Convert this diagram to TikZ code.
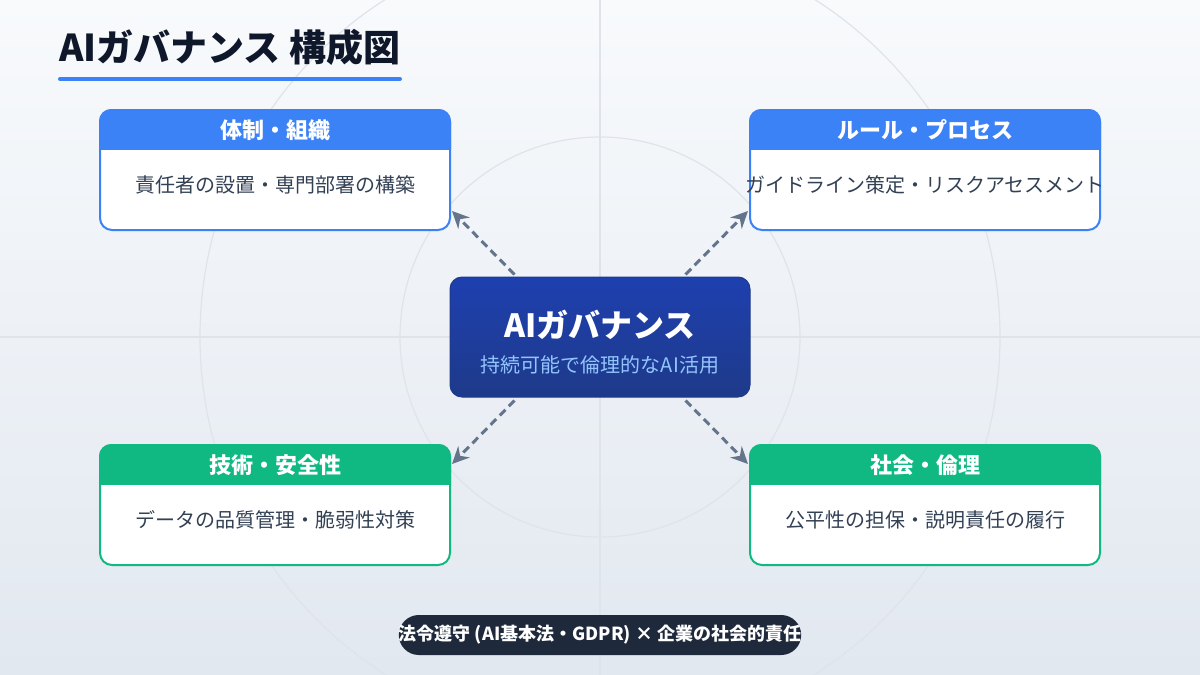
\documentclass[tikz,border=0pt]{standalone}
\usepackage{fontspec}
\setmainfont{Noto Sans CJK JP}
\usepackage{tikz}
\usetikzlibrary{positioning,arrows.meta}

\definecolor{bgtop}{HTML}{F8FAFC}
\definecolor{bgbot}{HTML}{E2E8F0}
\definecolor{gridgray}{HTML}{DFE4EB}
\definecolor{ruleblue}{HTML}{3B82F6}
\definecolor{techgreen}{HTML}{10B981}
\definecolor{coreblue}{HTML}{1E40AF}
\definecolor{coredark}{HTML}{1E3A8A}
\definecolor{subblue}{HTML}{93C5FD}
\definecolor{titleink}{HTML}{0F172A}
\definecolor{bodyink}{HTML}{334155}
\definecolor{arrowgray}{HTML}{64748B}
\definecolor{pillnavy}{HTML}{1E293B}

\tikzset{
  card/.style={draw=#1, line width=2pt, fill=white, rounded corners=12pt,
    minimum width=350pt, minimum height=120pt},
  cardtitle/.style={text=white, font=\bfseries\fontsize{22}{26}\selectfont},
  cardtext/.style={text=bodyink, font=\fontsize{20}{24}\selectfont},
  link/.style={draw=arrowgray, line width=3pt, dash pattern=on 8pt off 5pt,
    -{Stealth[length=17pt,width=16pt]}},
}

\begin{document}
\begin{tikzpicture}[x=1pt,y=-1pt]
  % backdrop
  \shade[top color=bgtop, bottom color=bgbot] (0,0) rectangle (1200,675);
  \useasboundingbox (0,0) rectangle (1200,675);
  \draw[gridgray, line width=1.2pt] (600,337) circle[radius=400];
  \draw[gridgray, line width=1.2pt] (600,337) circle[radius=200];
  \draw[gridgray, line width=1.2pt] (600,0) -- (600,675);
  \draw[gridgray, line width=1.2pt] (0,337) -- (1200,337);

  % heading
  \node[anchor=west, inner sep=0pt, text=titleink,
    font=\bfseries\fontsize{37}{41}\selectfont] (title) at (59,47) {AIガバナンス 構成図};
  \draw[ruleblue, line width=4pt, line cap=round] (60,79) -- (400,79);

  % cards
  \node[card=ruleblue] (org) at (275,170) {};
  \node[card=ruleblue] (rule) at (925,170) {};
  \node[card=techgreen] (tech) at (275,505) {};
  \node[card=techgreen] (soc) at (925,505) {};

  \foreach \n/\c in {org/ruleblue, rule/ruleblue, tech/techgreen, soc/techgreen} {
    \begin{scope}
      \clip (\n.north west) rectangle ([yshift=-40pt]\n.east |- \n.north);
      \fill[\c, rounded corners=12pt] (\n.north west) rectangle (\n.south east);
    \end{scope}
  }

  \node[cardtitle] (orgT) at ([yshift=-21pt]org.north) {体制・組織};
  \node[cardtext] (orgB) at ([yshift=-15pt]org.center) {責任者の設置・専門部署の構築};
  \node[cardtitle] (ruleT) at ([yshift=-21pt]rule.north) {ルール・プロセス};
  \node[cardtext] (ruleB) at ([yshift=-15pt]rule.center) {ガイドライン策定・リスクアセスメント};
  \node[cardtitle] (techT) at ([yshift=-21pt]tech.north) {技術・安全性};
  \node[cardtext] (techB) at ([yshift=-15pt]tech.center) {データの品質管理・脆弱性対策};
  \node[cardtitle] (socT) at ([yshift=-21pt]soc.north) {社会・倫理};
  \node[cardtext] (socB) at ([yshift=-15pt]soc.center) {公平性の担保・説明責任の履行};

  % centre
  \node[top color=coreblue, bottom color=coredark, draw=coredark, line width=1pt,
    rounded corners=12pt, minimum width=300pt, minimum height=120pt] (core) at (600,337) {};
  \node[text=white, font=\bfseries\fontsize{32}{36}\selectfont] (coreT)
    at ([yshift=12pt]core.center) {AIガバナンス};
  \node[text=subblue, font=\fontsize{20}{24}\selectfont] (coreS)
    at ([yshift=-28pt]core.center) {持続可能で倫理的なAI活用};

  % links
  \draw[link] ([xshift=65pt,yshift=2pt]core.north west) -- ([xshift=1pt,yshift=20pt]org.south east);
  \draw[link] ([xshift=-65pt,yshift=2pt]core.north east) -- ([xshift=-1pt,yshift=20pt]rule.south west);
  \draw[link] ([xshift=65pt,yshift=-3pt]core.south west) -- ([xshift=1pt,yshift=-20pt]tech.north east);
  \draw[link] ([xshift=-65pt,yshift=-3pt]core.south east) -- ([xshift=-1pt,yshift=-20pt]soc.north west);

  % footer
  \node[fill=pillnavy, rounded corners=20pt, minimum width=400pt, minimum height=40pt,
    inner xsep=0pt, text=white, font=\bfseries\fontsize{18}{22}\selectfont] (law)
    at (600,635) {法令遵守 (AI基本法・GDPR) × 企業の社会的責任};
\end{tikzpicture}
\end{document}
